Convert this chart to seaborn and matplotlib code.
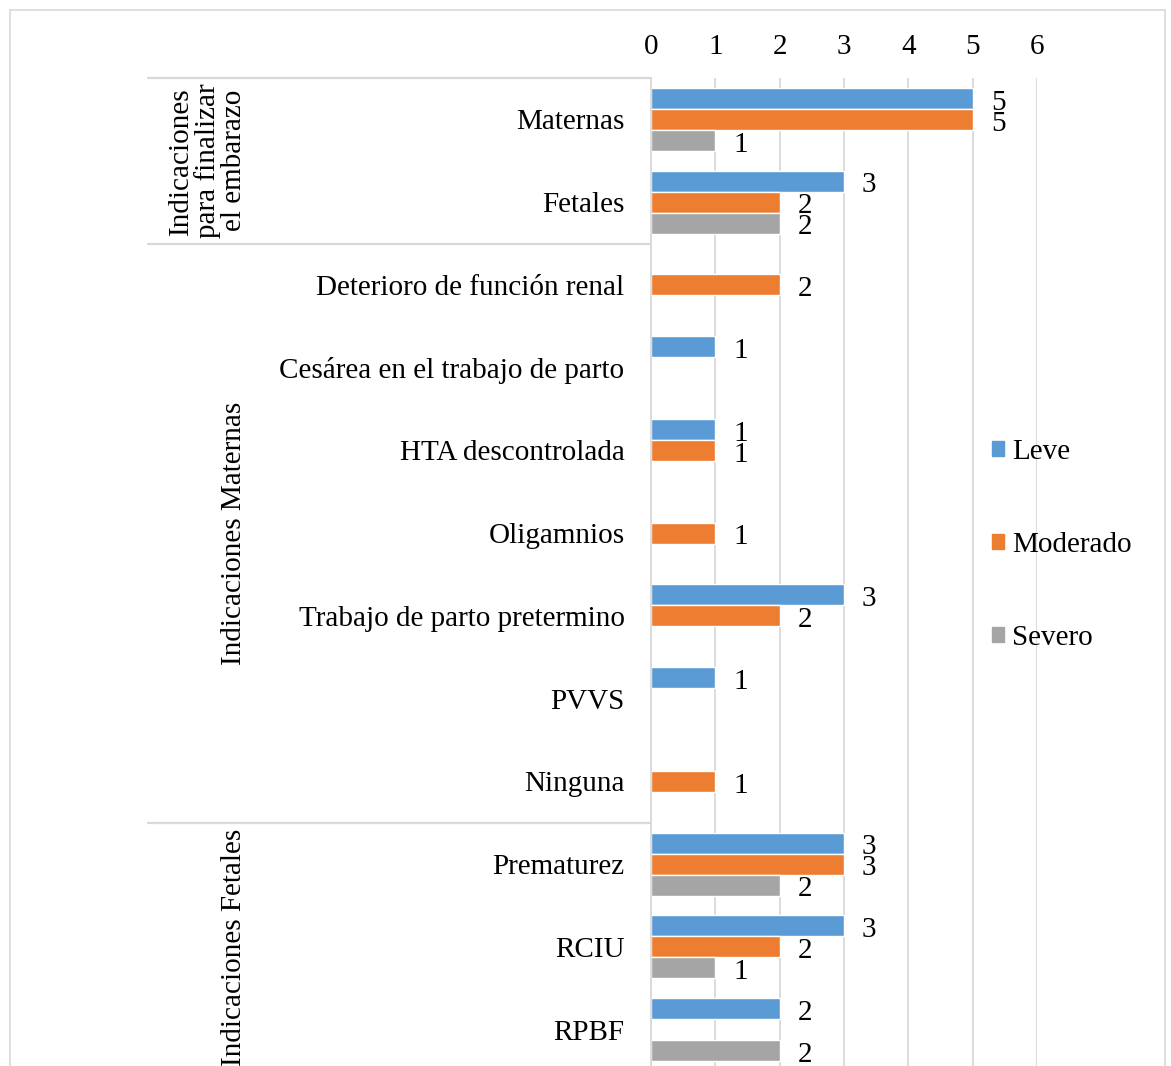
import numpy as np
import pandas as pd
import matplotlib
matplotlib.use("Agg")
from matplotlib import pyplot as plt
from matplotlib.patches import Rectangle
import seaborn as sns

# Data
categorias = ["Maternas", "Fetales", "Deterioro de función renal",
              "Cesárea en el trabajo de parto", "HTA descontrolada", "Oligamnios",
              "Trabajo de parto pretermino", "PVVS", "Ninguna",
              "Prematurez", "RCIU", "RPBF"]
series = ["Leve", "Moderado", "Severo"]
leve = [5, 3, None, 1, 1, None, 3, 1, None, 3, 3, 2]
moderado = [5, 2, 2, None, 1, 1, 2, None, 1, 3, 2, None]
severo = [1, 2, None, None, None, None, None, None, None, 2, 1, 2]
grupos = ["Indicaciones\npara finalizar\nel embarazo", "Indicaciones Maternas", "Indicaciones Fetales"]
grupo_limites = [(0, 1), (2, 8), (9, 11)]
colores = ["#5B9BD5", "#ED7D31", "#A5A5A5"]

rows = []
for cat, a, b, c in zip(categorias, leve, moderado, severo):
    for s, v in zip(series, (a, b, c)):
        if v is not None:
            rows.append({"Indicacion": cat, "Severidad": s, "Valor": v})
df = pd.DataFrame(rows)

sns.set_style("white")
plt.rcParams["font.family"] = ["Liberation Serif", "DejaVu Serif"]
plt.rcParams["text.color"] = "black"
plt.rcParams["xtick.color"] = "black"
plt.rcParams["ytick.color"] = "black"
FS = 21

fig = plt.figure(figsize=(11.71, 10.66), dpi=100)
W, H = 1171, 1066
ax_left, ax_right, ax_top, ax_bot = 651, 1037, 78, 1071
ax = fig.add_axes([ax_left / W, 1 - ax_bot / H, (ax_right - ax_left) / W, (ax_bot - ax_top) / H])

sns.barplot(data=df, y="Indicacion", x="Valor", hue="Severidad", order=categorias,
            hue_order=series, palette=colores, orient="h", width=0.76,
            errorbar=None, ax=ax, legend=False, saturation=1)

# value labels (they overlap a little in the original too)
for cont in ax.containers:
    for t in ax.bar_label(cont, fmt="{:.0f}", padding=13, fontsize=FS, color="black"):
        t.xyann = (13, -3)

ax.set_xlim(0, 6)
ax.set_ylim(len(categorias) - 0.5, -0.5)
ax.set_xticks(range(7))
ax.xaxis.tick_top()
ax.tick_params(axis="x", length=0, pad=13, labelsize=FS)
ax.tick_params(axis="y", length=0, pad=19, labelsize=FS)
ax.set_xlabel("")
ax.set_ylabel("")
ax.grid(axis="x", color="#D9D9D9", linewidth=1.3)
ax.set_axisbelow(True)
for side in ["top", "right", "bottom"]:
    ax.spines[side].set_visible(False)
ax.spines["left"].set_color("#D9D9D9")
ax.spines["left"].set_linewidth(1.3)

# group separators and labels on the left
trans = matplotlib.transforms.blended_transform_factory(ax.transAxes, ax.transData)
x0 = (148 - ax_left) / (ax_right - ax_left)
for lo, hi in grupo_limites:
    ax.plot([x0, 0], [lo - 0.5, lo - 0.5], color="#D9D9D9", lw=1.6,
            transform=trans, clip_on=False)
xg = (247 - ax_left) / (ax_right - ax_left)
for g, (lo, hi) in zip(grupos, grupo_limites):
    ax.text(xg, (lo + hi) / 2, g, rotation=90, ha="right", va="center",
            multialignment="center", fontsize=FS, linespacing=1.0,
            transform=trans, clip_on=False)

handles = [Rectangle((0, 0), 1, 1, color=c) for c in colores]
fig.legend(handles, series, loc="center left", bbox_to_anchor=(992 / W, 1 - 545 / H),
           frameon=False, fontsize=FS, handlelength=0.4, handleheight=0.4,
           handletextpad=0.3, labelspacing=2.3, borderpad=0, borderaxespad=0)

# outer chart border
fig.patches.append(Rectangle((10 / W, -0.05), (1165 - 10) / W, 1.05 - 10 / H,
                             transform=fig.transFigure, fill=False,
                             edgecolor="#D9D9D9", linewidth=1.2))

fig.savefig("out.png", dpi=100)
